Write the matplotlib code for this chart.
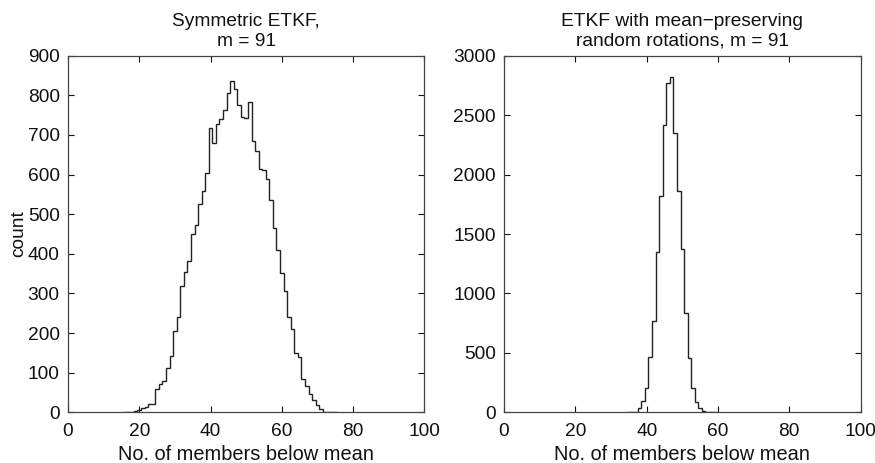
import numpy as np
import matplotlib
matplotlib.use('Agg')
import matplotlib.pyplot as plt

plt.rcParams['font.family'] = ['Liberation Sans', 'DejaVu Sans']

# counts per "number of members below mean" (bin centres are integers)
left_bins = list(range(16, 76))
left_counts = [1, 1, 2, 3, 6, 10, 13, 22, 22, 60,
               71, 80, 111, 143, 206, 240, 320, 353, 383, 449,
               472, 525, 558, 603, 718, 680, 727, 740, 764, 806,
               837, 815, 775, 745, 742, 784, 685, 660, 615, 611,
               590, 535, 464, 410, 351, 305, 240, 210, 149, 139,
               83, 66, 45, 31, 18, 8, 1, 2, 2, 1]

right_bins = list(range(35, 60))
right_counts = [1, 2, 4, 34, 98, 207, 468, 771, 1346, 1822,
                2417, 2773, 2824, 2347, 1862, 1377, 833, 454, 207, 90,
                34, 14, 5, 2, 1]

left_title = 'Symmetric ETKF,\nm = 91'
right_title = 'ETKF with mean\u2212preserving\nrandom rotations, m = 91'
xlabel = 'No. of members below mean'
left_yticks = list(range(0, 1000, 100))
right_yticks = list(range(0, 3500, 500))
xticks = list(range(0, 120, 20))

FS = 13.8
LINE = '#222222'

fig = plt.figure(figsize=(8.75, 4.63), dpi=100)
ax1 = fig.add_axes([68 / 875, 1 - 412.3 / 463, 356.4 / 875, 356.6 / 463])
ax2 = fig.add_axes([504 / 875, 1 - 412.3 / 463, 356.6 / 875, 356.6 / 463])


def draw(ax, bins, counts, yticks, title):
    edges = np.arange(bins[0] - 0.5, bins[-1] + 1.0, 1.0)
    ax.stairs(counts, edges, baseline=0, color=LINE, linewidth=1.0)
    ax.set_xlim(0, 100)
    ax.set_ylim(yticks[0], yticks[-1])
    ax.set_xticks(xticks)
    ax.set_yticks(yticks)
    ax.tick_params(direction='in', length=4, width=0.8, top=True, right=True,
                   labelsize=FS, colors='#111111', pad=6)
    ax.tick_params(axis='x', pad=8)
    for s in ax.spines.values():
        s.set_color('#444444')
        s.set_linewidth(0.9)
    ax.set_xlabel(xlabel, fontsize=FS + 0.6, labelpad=3, color='#111111')
    ax.set_title(title, fontsize=FS, pad=7, linespacing=1.2, color='#111111')


draw(ax1, left_bins, left_counts, left_yticks, left_title)
draw(ax2, right_bins, right_counts, right_yticks, right_title)
ax1.set_ylabel('count', fontsize=FS, labelpad=0, color='#111111')

fig.savefig('out.png', dpi=100)
